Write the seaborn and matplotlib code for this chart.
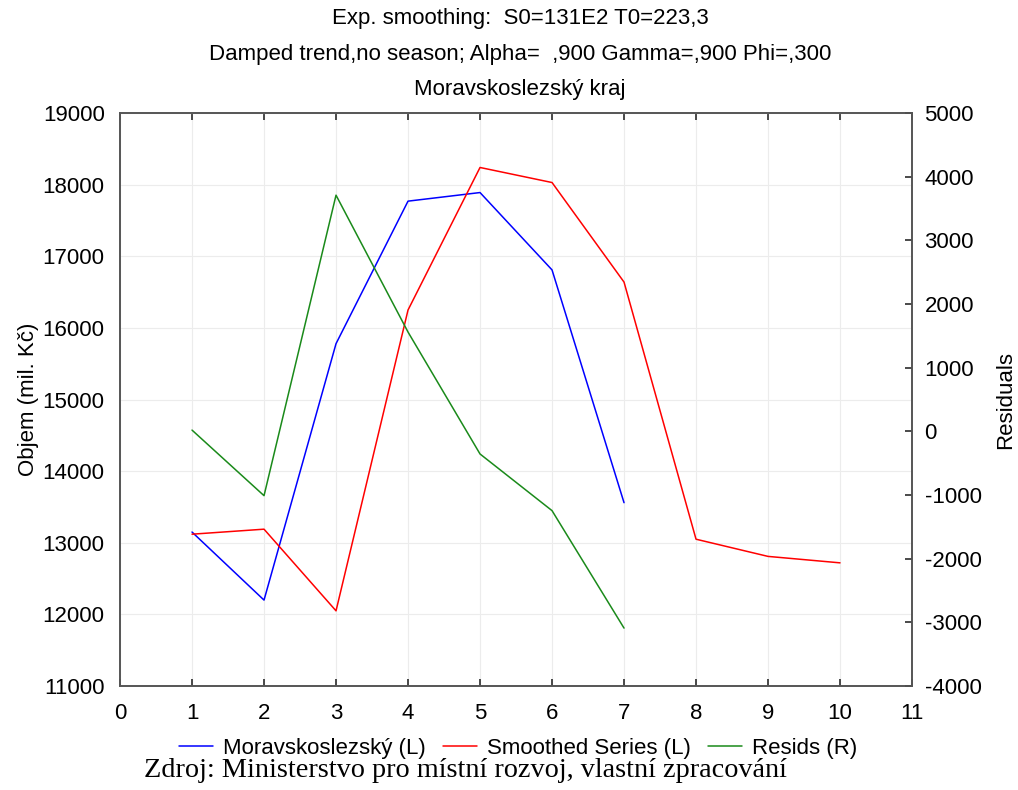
import pandas as pd
import matplotlib.pyplot as plt
import seaborn as sns

x_obs = [1, 2, 3, 4, 5, 6, 7]
x_smooth = [1, 2, 3, 4, 5, 6, 7, 8, 9, 10]
moravskoslezsky = [13150, 12200, 15780, 17770, 17890, 16810, 13560]
smoothed = [13120, 13190, 12050, 16250, 18240, 18030, 16640, 13050, 12810, 12720]
resids = [20, -1010, 3710, 1560, -355, -1245, -3090]

x_ticks = list(range(0, 12))
left_ticks = list(range(11000, 20000, 1000))
right_ticks = list(range(-4000, 6000, 1000))

titles = ["Exp. smoothing:  S0=131E2 T0=223,3",
          "Damped trend,no season; Alpha=  ,900 Gamma=,900 Phi=,300",
          "Moravskoslezský kraj"]

sns.set_theme(style="white")
plt.rcParams['font.family'] = ['Liberation Sans', 'DejaVu Sans']
plt.rcParams['axes.unicode_minus'] = False
plt.rcParams['text.color'] = 'black'
plt.rcParams['axes.labelcolor'] = 'black'

df_obs = pd.DataFrame({'x': x_obs, 'y': moravskoslezsky})
df_sm = pd.DataFrame({'x': x_smooth, 'y': smoothed})
df_res = pd.DataFrame({'x': x_obs, 'y': resids})

fig = plt.figure(figsize=(10.18, 7.9), dpi=100)
ax = fig.add_axes([0.1179, 0.1316, 0.778, 0.7253])
ax2 = ax.twinx()

sns.lineplot(data=df_obs, x='x', y='y', ax=ax, color='#0000ff', lw=1.1,
             label='Moravskoslezský (L)', legend=False)
sns.lineplot(data=df_sm, x='x', y='y', ax=ax, color='#ff0000', lw=1.1,
             label='Smoothed Series (L)', legend=False)
sns.lineplot(data=df_res, x='x', y='y', ax=ax2, color='#1a8a1a', lw=1.1,
             label='Resids (R)', legend=False)

ax.set_xlim(0, 11)
ax.set_ylim(11000, 19000)
ax2.set_ylim(-4000, 5000)
ax.set_xticks(x_ticks)
ax.set_yticks(left_ticks)
ax2.set_yticks(right_ticks)

ax.grid(True, color='#ececec', lw=0.8)
ax.set_axisbelow(True)

for a in (ax, ax2):
    for s in a.spines.values():
        s.set_color('#555555')
        s.set_linewidth(1.2)

fs = 16
ax.tick_params(axis='x', direction='in', length=5, color='#333333', top=True,
               bottom=True, labelsize=fs, pad=12, labelcolor='black')
ax.tick_params(axis='y', left=False, labelsize=fs, pad=5, labelcolor='black')
ax2.tick_params(axis='y', direction='in', length=5, color='#333333', right=True,
                labelsize=fs, pad=9, labelcolor='black')

ax.set_xlabel('')
ax.set_ylabel('Objem (mil. Kč)', fontsize=fs, labelpad=3)
ax2.set_ylabel('Residuals', fontsize=fs, labelpad=10)

for i, t in enumerate(titles):
    fig.text(0.511, 0.976 - i * 0.0445, t, ha='center', va='center', fontsize=fs)

handles = ax.get_lines()[:2] + ax2.get_lines()[:1]
labels = ['Moravskoslezský (L)', 'Smoothed Series (L)', 'Resids (R)']
fig.legend(handles, labels, loc='center', bbox_to_anchor=(0.509, 0.053), ncol=3,
           frameon=False, fontsize=fs, handlelength=1.5, handletextpad=0.45,
           columnspacing=0.8)

fig.text(0.457, 0.025, 'Zdroj: Ministerstvo pro místní rozvoj, vlastní zpracování',
         ha='center', va='center', fontsize=20.3, family=['Liberation Serif', 'DejaVu Serif'])

fig.savefig('out.png', dpi=100)
